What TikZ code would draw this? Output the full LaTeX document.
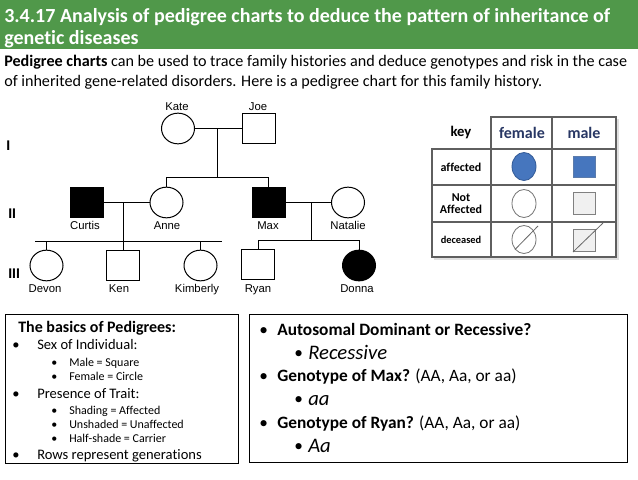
\documentclass[tikz,border=0pt]{standalone}
\usepackage{fontspec}
\setmainfont{Carlito}[Ligatures=NoCommon]
\newfontfamily\arial{Liberation Sans}
\usetikzlibrary{shapes.geometric}
\definecolor{bannergreen}{RGB}{80,152,74}
\definecolor{keyblue}{RGB}{70,118,190}
\definecolor{keyblueedge}{RGB}{50,90,150}
\definecolor{keynavy}{RGB}{40,55,100}
\definecolor{keygrid}{RGB}{95,95,95}
\begin{document}
\begin{tikzpicture}[x=0.75pt,y=-0.75pt,
  fem/.style={ellipse,draw,line width=0.75pt,minimum width=24.75pt,minimum height=23pt,inner sep=0pt},
  mal/.style={rectangle,draw,line width=0.75pt,minimum width=24.75pt,minimum height=22.5pt,inner sep=0pt},
  aff/.style={fill=black},
  pline/.style={line width=0.75pt},
  plabel/.style={font=\arial\fontsize{8.5pt}{10pt}\selectfont,anchor=base,inner sep=0pt},
  glabel/.style={font=\arial\bfseries\fontsize{10.5pt}{12pt}\selectfont,anchor=base west,inner sep=0pt},
  ttl/.style={font=\bfseries\fontsize{15pt}{17pt}\selectfont,text=white,anchor=base west,inner sep=0pt},
  body/.style={font=\fontsize{12.1pt}{14pt}\selectfont,anchor=base west,inner sep=0pt},
  lhead/.style={font=\bfseries\fontsize{12pt}{14pt}\selectfont,anchor=base west,inner sep=0pt},
  lone/.style={font=\fontsize{10.9pt}{13pt}\selectfont,anchor=base west,inner sep=0pt},
  ltwo/.style={font=\fontsize{9pt}{11pt}\selectfont,anchor=base west,inner sep=0pt},
  rone/.style={font=\fontsize{13pt}{15pt}\selectfont,anchor=base west,inner sep=0pt},
  rtwo/.style={font=\itshape\fontsize{15.5pt}{17pt}\selectfont,anchor=base west,inner sep=0pt},
  khead/.style={font=\bfseries\fontsize{12pt}{14pt}\selectfont,text=keynavy,anchor=center,inner sep=0pt},
  krow/.style={font=\bfseries\fontsize{9pt}{10pt}\selectfont,align=center,anchor=center,inner sep=0pt},
  kgrid/.style={draw=keygrid,line width=1pt}
]
\useasboundingbox (0,0) rectangle (638,479);
\fill[white] (0,0) rectangle (638,479);
% banner
\fill[bannergreen] (0,0) rectangle (638,49);
\node[ttl] (t1) at (4,22) {3.4.17 Analysis of pedigree charts to deduce the pattern of inheritance of};
\node[ttl] (t2) at (4,44) {genetic diseases};
\node[body] (b1) at (4,66) {\textbf{Pedigree charts} can be used to trace family histories and deduce genotypes and risk in the case};
\node[body] (b2) at (4,86) {of inherited gene-related disorders. Here is a pedigree chart for this family history.};

% generation labels
\node[glabel] (g1) at (6,150) {I};
\node[glabel] (g2) at (8,218) {II};
\node[glabel] (g3) at (8,278) {III};

% pedigree individuals
\node[fem] (kate) at (178,128.5) {};
\node[mal] (joe) at (258.5,128.5) {};
\node[mal,aff] (curtis) at (87,202.5) {};
\node[fem] (anne) at (166.5,202.5) {};
\node[mal,aff] (max) at (268.5,202.5) {};
\node[fem] (natalie) at (348,202.5) {};
\node[fem] (devon) at (46.5,265.5) {};
\node[mal] (ken) at (123,265.5) {};
\node[fem] (kimberly) at (200.5,265.5) {};
\node[mal] (ryan) at (258,264.5) {};
\node[fem,aff] (donna) at (359,265.5) {};

% labels
\node[plabel] (lkate) at (177,110) {Kate};
\node[plabel] (ljoe) at (258,110) {Joe};
\node[plabel] (lcurtis) at (85,229) {Curtis};
\node[plabel] (lanne) at (167,229) {Anne};
\node[plabel] (lmax) at (268,229) {Max};
\node[plabel] (lnatalie) at (348,229) {Natalie};
\node[plabel] (ldevon) at (45,292) {Devon};
\node[plabel] (lken) at (119,292) {Ken};
\node[plabel] (lkimberly) at (197,292) {Kimberly};
\node[plabel] (lryan) at (258,292) {Ryan};
\node[plabel] (ldonna) at (357,292) {Donna};

% connectors
\coordinate (m1) at (217,128.5);
\coordinate (s1) at (217,177);
\coordinate (m2) at (123,202.5);
\coordinate (s2l) at (35,241);
\coordinate (s2r) at (222,241);
\coordinate (m3) at (311,202.5);
\coordinate (s3) at (311,240);
\draw[pline] (kate.east) -- (joe.west);
\draw[pline] (m1) -- (s1);
\draw[pline] (anne.north) -- (anne.north |- s1) -- (max.north |- s1) -- (max.north);
\draw[pline] (curtis.east) -- (anne.west);
\draw[pline] (m2) -- (ken.north);
\draw[pline] (s2l) -- (s2r);
\draw[pline] (devon.north) -- (devon.north |- s2l);
\draw[pline] (kimberly.north) -- (kimberly.north |- s2l);
\draw[pline] (max.east) -- (natalie.west);
\draw[pline] (m3) -- (s3);
\draw[pline] (ryan.north) -- (ryan.north |- s3) -- (donna.north |- s3) -- (donna.north);

% key table
\fill[black!12] (434,151) rectangle (619,260);
\fill[black!12] (493,119) rectangle (619,151);
\fill[white] (432,149) rectangle (616,257);
\fill[white] (491,117) rectangle (616,149);
\draw[kgrid] (491,149) -- (491,117) -- (616,117) -- (616,257) -- (432,257) -- (432,149) -- (616,149);
\draw[kgrid] (552,117) -- (552,257);
\draw[kgrid] (491,149) -- (491,257);
\draw[kgrid] (432,185) -- (616,185);
\draw[kgrid] (432,222) -- (616,222);
\node[font=\bfseries\fontsize{11pt}{13pt}\selectfont,inner sep=0pt] (kkey) at (461,133) {key};
\node[khead] (kfem) at (522,133) {female};
\node[khead] (kmal) at (584,133) {male};
\node[krow] (kaff) at (461,167) {affected};
\node[krow] (knot) at (461,203.5) {Not\\[-1pt]Affected};
\node[krow,font=\bfseries\fontsize{7.8pt}{9pt}\selectfont] (kdec) at (461,239.5) {deceased};
\node[ellipse,fill=keyblue,draw=keyblueedge,line width=0.6pt,minimum width=18pt,minimum height=21pt,inner sep=0pt] (kfa) at (524,166.5) {};
\node[rectangle,fill=keyblue,draw=keyblueedge!80,line width=0.5pt,minimum width=16.5pt,minimum height=16pt,inner sep=0pt] (kma) at (584,166.5) {};
\node[ellipse,fill=white,draw=black!55,line width=0.6pt,minimum width=18pt,minimum height=21pt,inner sep=0pt] (kfn) at (524,203.5) {};
\node[rectangle,fill=black!6,draw=black!50,line width=0.6pt,minimum width=16.5pt,minimum height=16.5pt,inner sep=0pt] (kmn) at (584,203.5) {};
\node[ellipse,fill=white,draw=black!55,line width=0.6pt,minimum width=18pt,minimum height=21pt,inner sep=0pt] (kfd) at (524,239.5) {};
\node[rectangle,fill=black!6,draw=black!50,line width=0.6pt,minimum width=16.5pt,minimum height=16.5pt,inner sep=0pt] (kmd) at (584,240) {};
\coordinate (kfd1) at (515,249.5);
\coordinate (kfd2) at (538,226);
\coordinate (kmd1) at (573,252);
\coordinate (kmd2) at (603,223);
\draw[black!60,line width=0.6pt] (kfd1) -- (kfd2);
\draw[black!60,line width=0.6pt] (kmd1) -- (kmd2);

% left box
\draw[line width=0.75pt] (5,314) rectangle (238,463);
\node[lhead] (lh) at (18,332) {The basics of Pedigrees:};
\node[lone] (lb1) at (12,349) {•};
\node[lone] (lt1) at (37,349) {Sex of Individual:};
\node[ltwo] (lb2) at (51,366) {•};
\node[ltwo] (lt2) at (69,366) {Male = Square};
\node[ltwo] (lb3) at (51,380) {•};
\node[ltwo] (lt3) at (69,380) {Female = Circle};
\node[lone] (lb4) at (12,398) {•};
\node[lone] (lt4) at (37,398) {Presence of Trait:};
\node[ltwo] (lb5) at (51,414) {•};
\node[ltwo] (lt5) at (69,414) {Shading = Affected};
\node[ltwo] (lb6) at (51,428) {•};
\node[ltwo] (lt6) at (69,428) {Unshaded = Unaffected};
\node[ltwo] (lb7) at (51,442) {•};
\node[ltwo] (lt7) at (69,442) {Half-shade = Carrier};
\node[lone] (lb8) at (12,459) {•};
\node[lone] (lt8) at (37,459) {Rows represent generations};

% right box
\draw[line width=0.75pt] (249,314) rectangle (627,462);
\node[rone] (rb1) at (259,335) {•};
\node[rone] (rt1) at (277,335) {\textbf{Autosomal Dominant or Recessive?}};
\node[rone] (rb2) at (294,358) {•};
\node[rtwo] (rt2) at (308,359) {Recessive};
\node[rone] (rb3) at (259,381) {•};
\node[rone] (rt3) at (277,381) {\textbf{Genotype of Max?} (AA, Aa, or aa)};
\node[rone] (rb4) at (294,404) {•};
\node[rtwo] (rt4) at (308,405) {aa};
\node[rone] (rb5) at (259,428) {•};
\node[rone] (rt5) at (277,428) {\textbf{Genotype of Ryan?} (AA, Aa, or aa)};
\node[rone] (rb6) at (294,451) {•};
\node[rtwo] (rt6) at (308,452) {Aa};
\end{tikzpicture}
\end{document}
